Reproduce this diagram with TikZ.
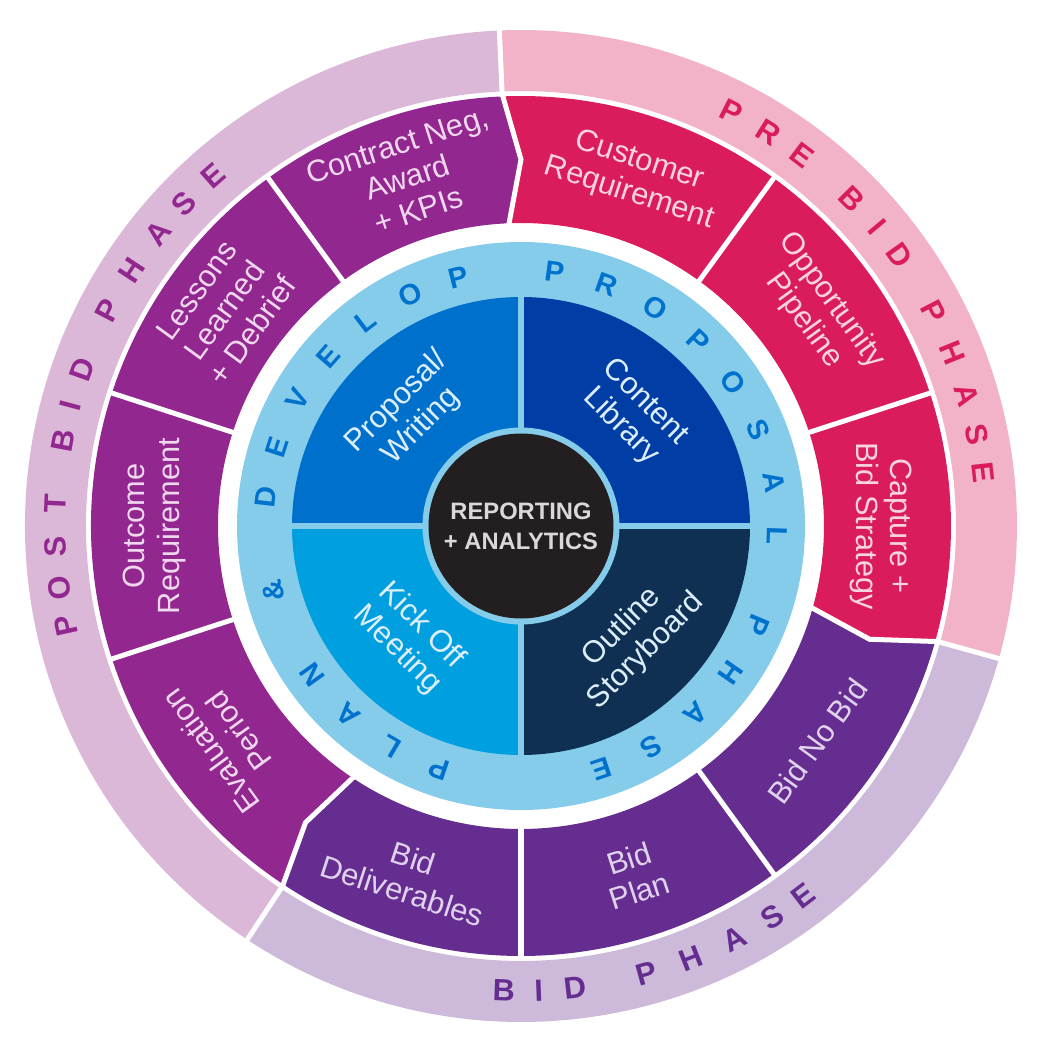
\documentclass[tikz,border=0pt]{standalone}
\usepackage{fontspec}
\setmainfont{Liberation Sans}
\usepackage{tikz}
\usetikzlibrary{positioning}
\definecolor{prebid}{HTML}{DA1C5C}
\definecolor{prebidlight}{HTML}{F2B3C8}
\definecolor{prebidtext}{HTML}{F8D2E1}
\definecolor{bidphase}{HTML}{662D91}
\definecolor{bidlight}{HTML}{CDB9DA}
\definecolor{bidtext}{HTML}{DFD2EC}
\definecolor{postbid}{HTML}{92278F}
\definecolor{postlight}{HTML}{DBB7D8}
\definecolor{posttext}{HTML}{EFD7EE}
\definecolor{ringblue}{HTML}{85CBEA}
\definecolor{ringtext}{HTML}{0072CE}
\definecolor{writing}{HTML}{0070CD}
\definecolor{library}{HTML}{003DA5}
\definecolor{kickoff}{HTML}{009FDF}
\definecolor{storyboard}{HTML}{0F3052}
\definecolor{quadtext}{HTML}{DCEEFA}
\definecolor{core}{HTML}{231F20}
\definecolor{coretext}{HTML}{D9D9D9}
\newcommand{\rCore}{1.85}
\newcommand{\rQuadIn}{1.97}
\newcommand{\rQuad}{4.58}
\newcommand{\rBlue}{5.68}
\newcommand{\rMidIn}{6.06}
\newcommand{\rMidTip}{7.33}
\newcommand{\rMidOut}{8.6}
\newcommand{\rOutIn}{8.7}
\newcommand{\rOutOut}{9.92}

\begin{document}
\begin{tikzpicture}[
    every node/.style={inner sep=1pt},
    gap/.style={draw=white, line width=0.1cm},
    seglabel/.style={font=\fontsize{17.5}{19.5}\selectfont, align=center},
    quadlabel/.style={seglabel, text=quadtext},
    ringletter/.style={font=\fontsize{16.5}{16.5}\selectfont\bfseries,
                       text=ringtext, inner sep=0pt},
    phaseletter/.style={font=\fontsize{17.5}{17.5}\selectfont\bfseries,
                        inner sep=0pt}
]
\useasboundingbox (-10.42,-10.58) rectangle (10.64,10.52);

% Outer phase ring
\fill[prebidlight] (92.5:\rOutOut) arc[start angle=92.5, end angle=-15.5, radius=\rOutOut]
    -- (-15.5:\rOutIn) arc[start angle=-15.5, end angle=92.5, radius=\rOutIn] -- cycle;
\fill[bidlight] (-15.5:\rOutOut) arc[start angle=-15.5, end angle=-123.5, radius=\rOutOut]
    -- (-123.5:\rOutIn) arc[start angle=-123.5, end angle=-15.5, radius=\rOutIn] -- cycle;
\fill[postlight] (-123.5:\rOutOut) arc[start angle=-123.5, end angle=-267.5, radius=\rOutOut]
    -- (-267.5:\rOutIn) arc[start angle=-267.5, end angle=-123.5, radius=\rOutIn] -- cycle;

% Middle ring, one block per phase (chevron at each phase change)
\fill[prebid] (92.5:\rMidOut) arc[start angle=92.5, end angle=-15.5, radius=\rMidOut]
    -- (-18:\rMidTip) -- (-15.5:\rMidIn)
    arc[start angle=-15.5, end angle=92.5, radius=\rMidIn] -- (90:\rMidTip) -- cycle;
\fill[bidphase] (-15.5:\rMidOut) arc[start angle=-15.5, end angle=-123.5, radius=\rMidOut]
    -- (-126:\rMidTip) -- (-123.5:\rMidIn)
    arc[start angle=-123.5, end angle=-15.5, radius=\rMidIn] -- (-18:\rMidTip) -- cycle;
\fill[postbid] (-123.5:\rMidOut) arc[start angle=-123.5, end angle=-267.5, radius=\rMidOut]
    -- (-270:\rMidTip) -- (-267.5:\rMidIn)
    arc[start angle=-267.5, end angle=-123.5, radius=\rMidIn] -- (-126:\rMidTip) -- cycle;

% White gaps
\foreach \a in {54,18,-54,-90,-162,-198,-234}
    \draw[gap] (\a:5.95) -- (\a:8.65);
\foreach \a in {90,-18,-126}
    \draw[gap] ({\a+2.5}:5.95) -- (\a:\rMidTip) -- ({\a+2.5}:8.65);
\foreach \a in {92.5,-15.5,-123.5}
    \draw[gap] (\a:8.6) -- (\a:10.1);

% Inner wheel
\fill[ringblue] (0,0) circle (\rBlue);
\fill[writing]    (0,0) -- (90:\rQuad)  arc[start angle=90,  end angle=180, radius=\rQuad] -- cycle;
\fill[library]    (0,0) -- (0:\rQuad)   arc[start angle=0,   end angle=90,  radius=\rQuad] -- cycle;
\fill[kickoff]    (0,0) -- (180:\rQuad) arc[start angle=180, end angle=270, radius=\rQuad] -- cycle;
\fill[storyboard] (0,0) -- (270:\rQuad) arc[start angle=270, end angle=360, radius=\rQuad] -- cycle;
\draw[ringblue, line width=0.12cm] (0,-4.65) -- (0,4.65) (-4.65,0) -- (4.65,0);
\fill[ringblue] (0,0) circle (\rQuadIn);
\fill[core] (0,0) circle (\rCore);

% Centre
\node[font=\fontsize{13.5}{17}\selectfont\bfseries, text=coretext, align=center]
    (core) at (0,0) {REPORTING\\+ ANALYTICS};

% Quadrants
\node[quadlabel, rotate=45]  (writ) at (135:3.16)  {Proposal/\\Writing};
\node[quadlabel, rotate=-45] (lib)  at (45:3.16)   {Content\\Library};
\node[quadlabel, rotate=-45] (kick) at (-135:3.16) {Kick Off\\Meeting};
\node[quadlabel, rotate=45]  (outl) at (-45:3.2)   {Outline\\Storyboard};

% Middle ring labels
\node[seglabel, text=prebidtext, rotate=-18] (custreq) at (72:\rMidTip)  {Customer\\Requirement};
\node[seglabel, text=prebidtext, rotate=-54] (opppipe) at (36:\rMidTip)  {Opportunity\\Pipeline};
\node[seglabel, text=prebidtext, rotate=-90] (capture) at (0:7.2)        {Capture +\\Bid Strategy};
\node[seglabel, text=bidtext, rotate=54]     (bidnobid) at (-36:\rMidTip) {Bid No Bid};
\node[seglabel, text=bidtext, rotate=18]     (bidplan) at (-72:\rMidTip) {Bid\\Plan};
\node[seglabel, text=bidtext, rotate=-18]    (biddeliv) at (-108:\rMidTip) {Bid\\Deliverables};
\node[seglabel, text=posttext, rotate=126]   (evalper) at (-144:\rMidTip) {Evaluation\\Period};
\node[seglabel, text=posttext, rotate=90]    (outcome) at (180:\rMidTip) {Outcome\\Requirement};
\node[seglabel, text=posttext, rotate=54]    (lessons) at (144:\rMidTip) {Lessons\\Learned\\+ Debrief};
\node[seglabel, text=posttext, rotate=18]    (contract) at (108:\rMidTip) {Contract Neg,\\Award\\+ KPIs};

% Light blue ring lettering
\foreach \a/\l [count=\i] in {-108.5/P,-120.5/L,-132.5/A,-144.5/N,-165.3/\&,
        173.6/D,162/E,150.4/V,138.8/E,127.2/L,115.6/O,104/P,
        82.5/P,70.4/R,58.3/O,46.2/P,34.1/O,22/S,9.9/A,-2.1/L,
        -22.8/P,-35/H,-47.2/A,-59.4/S,-71.6/E}
    \node[ringletter, rotate=\a-90] (plan\i) at (\a:5.13) {\l};

% Phase lettering
\foreach \a/\l [count=\i] in {63.1/P,57.8/R,52.8/E,44.7/B,40/I,35.6/D,
        27.5/P,21.9/H,16.4/A,11.3/S,6.6/E}
    \node[phaseletter, text=prebid, rotate=\a-90] (pre\i) at (\a:9.3) {\l};
\foreach \a/\l [count=\i] in {-92.1/B,-87.8/I,-83.3/D,
        -74.4/P,-68.5/H,-62.6/A,-57.3/S,-52.7/E}
    \node[phaseletter, text=bidphase, rotate=\a+90] (bid\i) at (\a:9.3) {\l};
\foreach \a/\l [count=\i] in {192.4/P,187.6/O,182.6/S,177.3/T,169.4/B,165/I,160.4/D,
        152.5/P,146.7/H,141.1/A,136.3/S,131.3/E}
    \node[phaseletter, text=postbid, rotate=\a-90] (post\i) at (\a:9.32) {\l};

\end{tikzpicture}
\end{document}
